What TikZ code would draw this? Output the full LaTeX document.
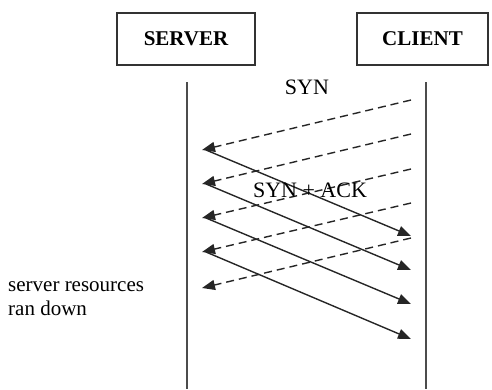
\documentclass[tikz,border=0pt]{standalone}
\usepackage{fontspec}
\setmainfont{Liberation Serif}
\usetikzlibrary{arrows.meta}
\begin{document}
\begin{tikzpicture}[x=1pt,y=-1pt,
  party/.style={draw=black!80,line width=1.3pt,minimum width=138pt,minimum height=52pt,inner sep=0pt,font=\fontsize{21}{24}\selectfont\bfseries},
  life/.style={draw=black!70,line width=1.5pt},
  syn/.style={draw=black!85,line width=1.4pt,dash pattern=on 8pt off 5pt,-{Triangle[length=13pt,width=10pt]}},
  ack/.style={draw=black!85,line width=1.4pt,-{Triangle[length=13pt,width=10pt]}},
  lbl/.style={font=\fontsize{22}{24}\selectfont,inner sep=0pt}
]
\useasboundingbox (0,0) rectangle (492,389);
\node[party] (server) at (186,39) {SERVER};
\node[party,minimum width=131pt] (client) at (422.5,39) {CLIENT};
\coordinate (stop) at (187,82); \coordinate (sbot) at (187,389);
\coordinate (ctop) at (426,82); \coordinate (cbot) at (426,389);
\draw[life] (stop) -- (sbot);
\draw[life] (ctop) -- (cbot);
% SYN (client -> server)
\foreach \i/\a/\b in {1/100/150,2/134/184,3/169/218,4/203/252,5/238/288}{
  \coordinate (c\i) at (411,\a);
  \coordinate (s\i) at (202,\b);
  \draw[syn] (c\i) -- (s\i);
}
% SYN+ACK (server -> client)
\foreach \i/\a/\b in {1/150/236,2/184/270,3/218/304,4/252/339}{
  \coordinate (p\i) at (206,\a);
  \coordinate (q\i) at (411,\b);
  \draw[ack] (p\i) -- (q\i);
}
\node[lbl] (synl) at (307,87) {SYN};
\node[lbl] (ackl) at (310,190) {SYN + ACK};
\node[lbl,anchor=north west,align=left,font=\fontsize{21}{24}\selectfont] (note) at (8,281) {server resources\\ran down};
\end{tikzpicture}
\end{document}
